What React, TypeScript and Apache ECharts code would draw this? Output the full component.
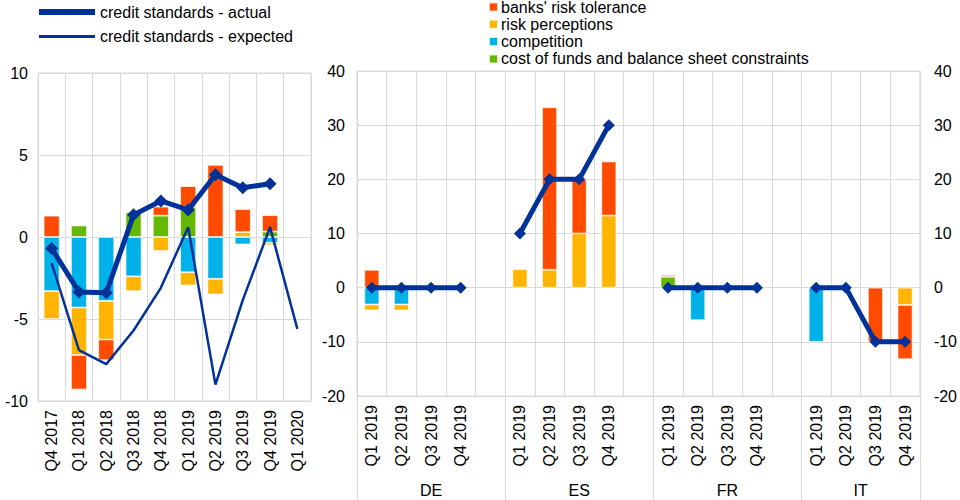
import React, { useEffect, useRef } from "react";
import * as echarts from "echarts";

// ---------- data ----------
const leftCats = ["Q4 2017", "Q1 2018", "Q2 2018", "Q3 2018", "Q4 2018", "Q1 2019", "Q2 2019", "Q3 2019", "Q4 2019", "Q1 2020"];
const leftCost = [null, 0.7, null, 1.5, 1.3, 1.85, null, null, 0.33, null];
const leftCompetition = [-3.3, -4.3, -3.9, -2.4, null, -2.15, -2.55, -0.45, -0.35, null];
const leftRiskPerc = [-1.7, -2.9, -2.35, -0.9, -0.85, -0.8, -0.95, 0.3, -0.15, null];
const leftRiskTol = [1.3, -2.1, -1.25, null, 0.55, 1.25, 4.4, 1.4, 1.0, null];
const leftActual = [-0.7, -3.35, -3.4, 1.35, 2.2, 1.65, 3.8, 3.0, 3.25, null];
const leftExpected = [-1.6, -6.9, -7.75, -5.7, -3.1, 0.6, -9.0, -3.85, 0.6, -5.6];

const quarters = ["Q1 2019", "Q2 2019", "Q3 2019", "Q4 2019"];
const countries = ["DE", "ES", "FR", "IT"];
// per country, 4 quarters
const rCost = [[null, null, null, null], [null, null, null, null], [2.0, null, null, null], [null, null, null, null]];
const rCompetition = [[-3.1, -3.1, null, null], [null, null, null, null], [null, -6, null, null], [-10, null, null, null]];
const rRiskPerc = [[-1.1, -1.1, null, null], [3.4, 3.3, 10, 13.3], [null, null, null, null], [null, null, null, -3.2]];
const rRiskTol = [[3.3, null, null, null], [null, 30, 10, 10], [0.35, null, null, null], [null, null, -10, -10]];
const rActual = [[0, 0, 0, 0], [10, 20, 20, 30], [0, 0, 0, 0], [0, 0, -10, -10]];

const leftTicks = { min: -10, max: 10, interval: 5 };
const rightTicks = { min: -20, max: 40, interval: 10 };

// ---------- helpers ----------
function flatten(groups: (number | null)[][]) {
  const out: (number | null)[] = [];
  groups.forEach((g, i) => {
    out.push(...g);
    if (i < groups.length - 1) out.push(null);
  });
  return out;
}
const rightCats: string[] = [];
countries.forEach((_, i) => {
  rightCats.push(...quarters);
  if (i < countries.length - 1) rightCats.push("");
});
const groupSize = quarters.length + 1;
const groupBounds = countries.map((_, i) => i * groupSize).concat([rightCats.length]);
const groupCenters = countries.map((_, i) => (i * groupSize + Math.min((i + 1) * groupSize, rightCats.length)) / 2);

const C_RED = "#FF4B00";
const C_YEL = "#FFB400";
const C_BLU = "#00B1EA";
const C_GRN = "#65B800";
const C_NAVY = "#003299";
const GRID = "#d9d9d9";
const FONT = "Liberation Sans, Arial, sans-serif";

const N_TOL = "banks' risk tolerance";
const N_PERC = "risk perceptions";
const N_COMP = "competition";
const N_COST = "cost of funds and balance sheet constraints";
const N_ACT = "credit standards - actual";
const N_EXP = "credit standards - expected";

export default function App() {
  const ref = useRef<HTMLDivElement>(null);
  useEffect(() => {
    if (!ref.current) return;
    const chart = echarts.init(ref.current, undefined, { renderer: "svg" });
    const label = { color: "#000", fontSize: 16, fontFamily: FONT };
    const bar = (name: string, color: string, data: any[], side: 0 | 1) => ({
      name,
      type: "bar",
      stack: side === 0 ? "L" : "R",
      xAxisIndex: side,
      yAxisIndex: side,
      barWidth: side === 0 ? 16 : 15,
      data,
      itemStyle: { color, borderColor: "rgba(255,255,255,0.8)", borderWidth: 0.8 },
    });
    const catAxis = (grid: number, data: string[]) => ({
      type: "category",
      gridIndex: grid,
      data,
      axisLine: { show: true, lineStyle: { color: GRID } },
      axisTick: { show: false },
      splitLine: { show: true, lineStyle: { color: GRID } },
      axisLabel: { ...label, rotate: 90, margin: 9, interval: 0 },
    });
    chart.setOption({
      animation: false,
      backgroundColor: "#fff",
      textStyle: { fontFamily: FONT },
      legend: [
        {
          data: [
            { name: N_ACT, lineStyle: { width: 6 }, itemStyle: { color: C_NAVY } },
            { name: N_EXP, lineStyle: { width: 3 }, itemStyle: { opacity: 0 } },
          ],
          orient: "vertical",
          left: 36,
          top: 4,
          padding: 0,
          itemWidth: 56,
          itemHeight: 8,
          itemGap: 8.5,
          textStyle: { ...label, lineHeight: 16 },
        },
        {
          data: [N_TOL, N_PERC, N_COMP, N_COST],
          orient: "vertical",
          left: 488,
          top: -1,
          padding: 0,
          icon: "rect",
          itemWidth: 9,
          itemHeight: 9,
          itemGap: 1.3,
          textStyle: { ...label, padding: [0, 0, 0, -2] },
        },
      ],
      grid: [
        { left: 38, top: 73, width: 273, height: 328, show: true, borderColor: GRID, backgroundColor: "#fff" },
        { left: 357, top: 71, width: 566, height: 325, show: true, borderColor: GRID, backgroundColor: "#fff" },
      ],
      xAxis: [
        catAxis(0, leftCats),
        catAxis(1, rightCats),
        {
          type: "value",
          gridIndex: 1,
          min: 0,
          max: rightCats.length,
          position: "bottom",
          axisLine: { show: false },
          splitLine: { show: false },
          axisTick: { show: false },
          axisLabel: {
            ...label,
            margin: 86,
            customValues: groupCenters,
            formatter: (v: number) => {
              const i = groupCenters.indexOf(v);
              return i >= 0 ? countries[i] : "";
            },
          },
        },
      ],
      yAxis: [
        {
          type: "value",
          gridIndex: 0,
          ...leftTicks,
          axisLine: { show: false },
          axisTick: { show: false },
          splitLine: { lineStyle: { color: GRID } },
          axisLabel: { ...label, margin: 10 },
        },
        {
          type: "value",
          gridIndex: 1,
          position: "left",
          ...rightTicks,
          axisLine: { show: false },
          axisTick: { show: false },
          splitLine: { lineStyle: { color: GRID } },
          axisLabel: { ...label, margin: 12 },
        },
        {
          type: "value",
          gridIndex: 1,
          position: "right",
          ...rightTicks,
          axisLine: { show: false },
          axisTick: { show: false },
          splitLine: { show: false },
          axisLabel: { ...label, margin: 14 },
        },
      ],
      series: [
        bar(N_COST, C_GRN, leftCost, 0),
        bar(N_COMP, C_BLU, leftCompetition, 0),
        bar(N_PERC, C_YEL, leftRiskPerc, 0),
        bar(N_TOL, C_RED, leftRiskTol, 0),
        bar(N_COST, C_GRN, flatten(rCost), 1),
        bar(N_COMP, C_BLU, flatten(rCompetition), 1),
        bar(N_PERC, C_YEL, flatten(rRiskPerc), 1),
        bar(N_TOL, C_RED, flatten(rRiskTol), 1),
        {
          name: N_ACT,
          type: "line",
          xAxisIndex: 0,
          yAxisIndex: 0,
          data: leftActual,
          symbol: "diamond",
          symbolSize: 13,
          lineStyle: { color: C_NAVY, width: 5 },
          itemStyle: { color: C_NAVY },
          z: 5,
        },
        {
          name: N_EXP,
          type: "line",
          xAxisIndex: 0,
          yAxisIndex: 0,
          data: leftExpected,
          showSymbol: false,
          symbol: "none",
          lineStyle: { color: C_NAVY, width: 2.5 },
          itemStyle: { color: C_NAVY },
          z: 4,
        },
        {
          name: N_ACT,
          type: "line",
          xAxisIndex: 1,
          yAxisIndex: 1,
          data: flatten(rActual),
          symbol: "diamond",
          symbolSize: 12,
          lineStyle: { color: C_NAVY, width: 5 },
          itemStyle: { color: C_NAVY },
          z: 5,
        },
      ],
    });
    // group separators below the right panel, placed through the axis scale
    const yTop = chart.convertToPixel({ yAxisIndex: 1 }, rightTicks.min) as number;
    chart.setOption({
      graphic: groupBounds.map((b) => {
        const x = Math.round(chart.convertToPixel({ xAxisIndex: 2 }, b) as number) + 0.5;
        return {
          type: "line",
          shape: { x1: x, y1: yTop, x2: x, y2: 500 },
          style: { stroke: GRID, lineWidth: 1 },
          silent: true,
        };
      }),
    });
    return () => chart.dispose();
  }, []);
  return <div ref={ref} style={{ position: "fixed", left: 0, top: 0, width: 960, height: 500 }} />;
}
